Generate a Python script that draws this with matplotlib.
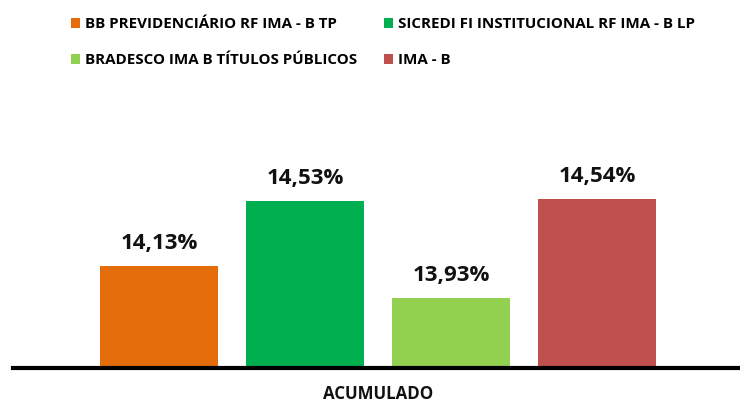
import matplotlib
matplotlib.use('Agg')
import matplotlib.pyplot as plt
from matplotlib.patches import Patch

# fund names and accumulated return (%)
series = ['BB PREVIDENCIÁRIO RF IMA - B TP',
          'SICREDI FI INSTITUCIONAL RF IMA - B LP',
          'BRADESCO IMA B TÍTULOS PÚBLICOS',
          'IMA - B']
values = [14.13, 14.53, 13.93, 14.54]
colors = ['#E46C0A', '#00B050', '#92D050', '#C0504D']
category = 'ACUMULADO'

FONT = ['Open Sans', 'DejaVu Sans']
plt.rcParams['font.family'] = FONT
plt.rcParams['font.weight'] = 'bold'

fig = plt.figure(figsize=(7.4, 4.04), dpi=100)
ax = fig.add_axes([13 / 740, 1 - 368 / 404, 730 / 740, 258 / 404])

xpos = list(range(len(values)))
ax.bar(xpos, values, width=0.803, color=colors, zorder=2)

for x, v in zip(xpos, values):
    ax.annotate(f'{v:.2f}%'.replace('.', ','), (x, v), xytext=(0, 8.5),
                textcoords='offset points', ha='center', va='bottom',
                fontsize=16, fontweight='bold', color='#111111')

ax.set_ylim(13.50, 15.088)
ax.set_xlim(-1.0, 4.0)
ax.set_yticks([])
ax.set_xticks([1.5])
ax.set_xticklabels([category], fontsize=12.2, fontweight='bold', color='#111111')
ax.tick_params(axis='x', length=0, pad=12.5)
for s in ['top', 'left', 'right']:
    ax.spines[s].set_visible(False)
ax.spines['bottom'].set_linewidth(3)
ax.spines['bottom'].set_zorder(3)

# legend is filled column by column, so reorder to read row by row
order = [0, 2, 1, 3]
handles = [Patch(facecolor=colors[i]) for i in order]
labels = [series[i] for i in order]
fig.legend(handles, labels, ncol=2, loc='upper left', bbox_to_anchor=(71 / 740, 1 - 17 / 404),
           frameon=False, borderpad=0, borderaxespad=0,
           handlelength=0.6, handleheight=0.66,
           handletextpad=0.33, columnspacing=1.75, labelspacing=1.47,
           prop={'family': FONT, 'weight': 'bold', 'size': 10.9})

fig.savefig('out.png', dpi=100)
